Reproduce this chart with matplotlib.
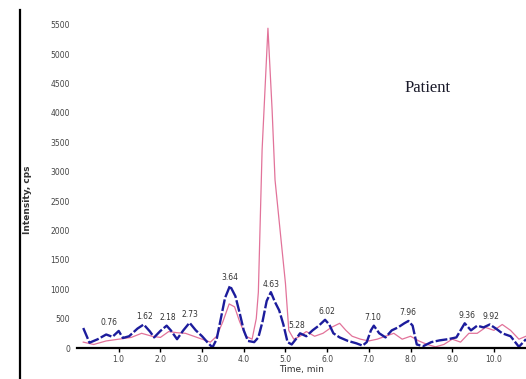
import matplotlib
matplotlib.use("Agg")
import matplotlib.pyplot as plt
from matplotlib.lines import Line2D

# blue trace (patient)
blue_t = [0.15, 0.3, 0.5, 0.7, 0.85, 1.0, 1.1, 1.25, 1.45, 1.6, 1.75, 1.85, 2.0, 2.15, 2.25,
          2.4, 2.55, 2.7, 2.85, 3.0, 3.15, 3.25, 3.35, 3.45, 3.55, 3.67, 3.8, 3.9, 4.0, 4.1,
          4.25, 4.35, 4.45, 4.55, 4.65, 4.75, 4.85, 4.95, 5.05, 5.15, 5.25, 5.35, 5.5, 5.65,
          5.8, 5.95, 6.05, 6.15, 6.3, 6.5, 6.7, 6.85, 6.95, 7.05, 7.12, 7.25, 7.4, 7.55, 7.7,
          7.85, 7.95, 8.05, 8.15, 8.3, 8.5, 8.7, 8.9, 9.1, 9.3, 9.45, 9.6, 9.75, 9.9, 10.05,
          10.2, 10.4, 10.6, 10.77]
blue_v = [340, 90, 150, 230, 190, 290, 170, 200, 330, 400, 280, 180, 290, 380, 300,
          150, 300, 430, 300, 200, 80, 10, 150, 500, 850, 1060, 880, 600, 300, 120,
          100, 180, 450, 800, 950, 780, 640, 400, 100, 60, 150, 250, 200, 300,
          380, 480, 400, 250, 180, 120, 80, 40, 100, 300, 380, 250, 180, 300, 350,
          420, 460, 380, 60, 30, 100, 130, 150, 180, 420, 300, 380, 350, 400, 330,
          250, 200, 20, 150]

# pink trace
pink_t = [0.15, 0.4, 0.7, 1.0, 1.3, 1.55, 1.8, 2.0, 2.2, 2.4, 2.6, 2.8, 3.0, 3.2, 3.35,
          3.5, 3.65, 3.78, 3.9, 4.05, 4.2, 4.3, 4.35, 4.44, 4.58, 4.68, 4.75, 4.9, 5.0, 5.08,
          5.2, 5.35, 5.5, 5.7, 5.9, 6.1, 6.3, 6.45, 6.6, 6.8, 7.0, 7.2, 7.4, 7.6, 7.8, 8.0,
          8.2, 8.4, 8.6, 8.8, 9.0, 9.2, 9.4, 9.6, 9.8, 10.0, 10.2, 10.4, 10.6, 10.77]
pink_v = [100, 60, 120, 150, 180, 250, 200, 180, 280, 260, 250, 200, 150, 100, 200,
          450, 750, 700, 450, 200, 150, 500, 950, 3370, 5440, 4050, 2860, 1800, 1100, 300,
          150, 200, 280, 200, 250, 350, 420, 300, 200, 150, 120, 150, 200, 250, 150, 200,
          120, 60, 20, 60, 150, 100, 250, 250, 350, 300, 400, 300, 150, 200]

# peak labels
peak_t = [0.76, 1.62, 2.18, 2.71, 3.67, 4.65, 5.28, 6.0, 7.1, 7.94, 9.35, 9.93]
peak_v = [300, 400, 380, 430, 1060, 950, 250, 480, 380, 460, 420, 400]
peak_txt = ["0.76", "1.62", "2.18", "2.73", "3.64", "4.63", "5.28", "6.02", "7.10", "7.96", "9.36", "9.92"]

yticks = list(range(0, 5501, 500))
xticks = [1, 2, 3, 4, 5, 6, 7, 8, 9, 10]
xticklabels = ["1.0", "2.0", "3.0", "4.0", "5.0", "6.0", "7.0", "8.0", "9.0", "10.0"]

fig = plt.figure(figsize=(5.26, 3.79), dpi=100)
ax = fig.add_axes([77 / 526, 31 / 379, 449 / 526, 338 / 379])

ax.plot(pink_t, pink_v, color="#e2739a", lw=0.9)
ax.plot(blue_t, blue_v, color="#1c1c9c", lw=1.7, linestyle=(0, (5, 1)))

for t, v, s in zip(peak_t, peak_v, peak_txt):
    ax.text(t, v + 60, s, ha="center", va="bottom", fontsize=5.5, color="#333333")

ax.text(0.78, 0.77, "Patient", transform=ax.transAxes, ha="center", va="center",
        fontsize=12, family="Liberation Serif", color="#1a1a2a")

ax.set_xlim(0, 10.77)
ax.set_ylim(0, 5750)
ax.set_xticks(xticks)
ax.set_xticklabels(xticklabels, fontsize=5.5, color="#444444")
ax.set_yticks(yticks)
ax.set_yticklabels([str(v) for v in yticks], fontsize=5.5, color="#444444")
ax.tick_params(axis="y", length=0, pad=5)
ax.tick_params(axis="x", length=3, width=1, direction="out", pad=2)
for s in ["top", "right", "left"]:
    ax.spines[s].set_visible(False)
ax.spines["bottom"].set_linewidth(1.6)

ax.set_xlabel("Time, min", fontsize=6.5, color="#333333", labelpad=1)

fig.text(28 / 526, 1 - 200 / 379, "Intensity, cps", rotation=90, ha="center", va="center",
         fontsize=6.5, fontweight="bold", color="#333333")
fig.add_artist(Line2D([20 / 526, 20 / 526], [0, 1 - 10 / 379], transform=fig.transFigure,
                      color="black", lw=1.6))

fig.savefig("out.png", dpi=100)
